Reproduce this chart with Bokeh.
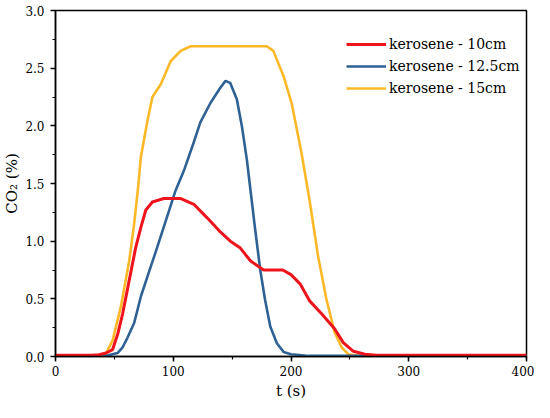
from bokeh.plotting import figure
from bokeh.models import Range1d, SingleIntervalTicker, PrintfTickFormatter, Legend, LegendItem
from bokeh.embed import file_html
from bokeh.resources import INLINE

# kerosene - 10cm
t_10 = [0, 30, 37, 43, 48.5, 53, 57, 62.6, 68, 72.5, 76.7, 82.3, 92, 106, 117.5, 129, 140, 148.5,
        157, 165.5, 176.7, 193, 200, 207.7, 216, 226, 237, 244.4, 253, 262.7, 272.5, 400]
co2_10 = [0.01, 0.01, 0.015, 0.03, 0.06, 0.2, 0.37, 0.66, 0.94, 1.12, 1.27, 1.34, 1.37, 1.37, 1.32,
          1.20, 1.08, 1.00, 0.94, 0.83, 0.75, 0.75, 0.71, 0.63, 0.48, 0.37, 0.24, 0.12, 0.045, 0.02,
          0.01, 0.01]

# kerosene - 12.5cm
t_125 = [0, 38.6, 45, 52.7, 57, 61, 66.8, 72.5, 78, 86.5, 95, 102, 109, 117.5, 123, 131.7, 140,
         144.4, 148.5, 154, 158.4, 162.6, 165.5, 169.7, 173.9, 178, 182.4, 188, 193.7, 200, 205,
         215, 400]
co2_125 = [0, 0, 0.01, 0.03, 0.08, 0.16, 0.29, 0.52, 0.69, 0.95, 1.22, 1.44, 1.61, 1.86, 2.03,
           2.20, 2.33, 2.39, 2.37, 2.23, 1.99, 1.70, 1.45, 1.09, 0.75, 0.49, 0.26, 0.115, 0.04,
           0.02, 0.015, 0.005, 0.005]

# kerosene - 15cm
t_15 = [0, 38, 43, 48.5, 55.5, 62.6, 66.8, 70.2, 72.5, 78, 82.3, 89.4, 97.8, 106.3, 114.8, 179.5,
        185, 193.7, 200.7, 209, 216, 223, 230, 237, 243, 248.6, 258, 400]
co2_15 = [0.01, 0.01, 0.03, 0.14, 0.43, 0.83, 1.15, 1.47, 1.73, 2.04, 2.25, 2.36, 2.56, 2.65, 2.69,
          2.69, 2.65, 2.43, 2.19, 1.76, 1.34, 0.87, 0.50, 0.21, 0.08, 0.02, 0.005, 0.005]

labels = ["kerosene - 10cm", "kerosene - 12.5cm", "kerosene - 15cm"]
colors = ["#EE141C", "#2F6294", "#FDB827"]

FONT = "DejaVu Serif"

p = figure(width=534, height=402,
           output_backend="svg", toolbar_location=None,
           x_range=Range1d(0, 400), y_range=Range1d(0, 3))
p.min_border_left = 53
p.min_border_right = 8
p.min_border_top = 10
p.min_border_bottom = 44
p.grid.visible = False
p.outline_line_color = "black"
p.outline_line_width = 1.5
p.background_fill_color = "white"
p.border_fill_color = "white"

r15 = p.line(t_15, co2_15, line_color=colors[2], line_width=2.6)
r125 = p.line(t_125, co2_125, line_color=colors[1], line_width=2.6)
r10 = p.line(t_10, co2_10, line_color=colors[0], line_width=3)

p.xaxis.ticker = SingleIntervalTicker(interval=100, num_minor_ticks=2)
p.yaxis.ticker = SingleIntervalTicker(interval=0.5, num_minor_ticks=2)
p.yaxis.formatter = PrintfTickFormatter(format="%.1f")
p.xaxis.axis_label = "t (s)"
p.yaxis.axis_label = "CO\u2082 (%)"

for ax in (p.xaxis, p.yaxis):
    ax.axis_line_color = "black"
    ax.axis_line_width = 1.5
    ax.major_tick_line_color = "black"
    ax.major_tick_line_width = 1.5
    ax.minor_tick_line_color = "black"
    ax.minor_tick_line_width = 1.2
    ax.major_tick_out = 5
    ax.major_tick_in = 0
    ax.minor_tick_out = 3
    ax.minor_tick_in = 0
    ax.major_label_text_font = FONT
    ax.major_label_text_font_size = "12px"
    ax.major_label_text_color = "black"
    ax.axis_label_text_font = FONT
    ax.axis_label_text_font_size = "15px"
    ax.axis_label_text_font_style = "normal"
    ax.axis_label_text_color = "black"

p.xaxis.major_label_standoff = 4
p.yaxis.major_label_standoff = 6
p.xaxis.axis_label_standoff = 3
p.yaxis.axis_label_standoff = 1

legend = Legend(items=[LegendItem(label=labels[0], renderers=[r10]),
                       LegendItem(label=labels[1], renderers=[r125]),
                       LegendItem(label=labels[2], renderers=[r15])],
                location=(291, 257))
legend.padding = 0
legend.spacing = 0
legend.margin = 0
legend.glyph_width = 40
legend.glyph_height = 22
legend.label_height = 22
legend.label_standoff = 3
legend.label_text_font = FONT
legend.label_text_font_size = "14px"
legend.label_text_color = "black"
legend.border_line_color = None
legend.background_fill_alpha = 0
p.add_layout(legend)

open("out.html", "w").write(file_html(p, INLINE))
